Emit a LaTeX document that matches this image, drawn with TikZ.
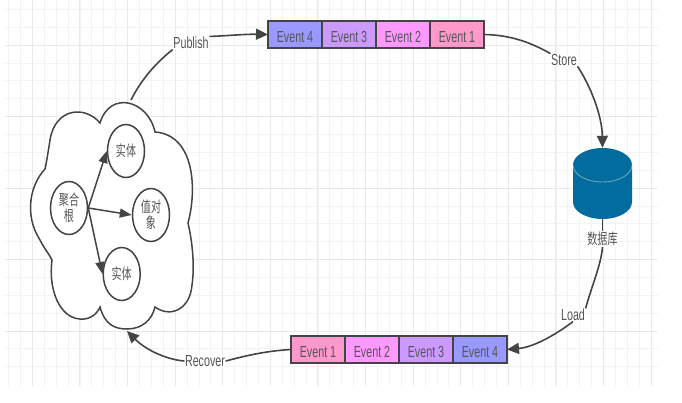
\documentclass[tikz,border=0pt]{standalone}
\usepackage{fontspec}
\setmainfont{Liberation Sans}
\newfontfamily\cjk{Noto Sans CJK SC}
\usetikzlibrary{arrows.meta,shapes.geometric}
\definecolor{ink}{HTML}{444444}
\definecolor{txt}{HTML}{555555}
\definecolor{gridmajor}{HTML}{E9E9E9}
\definecolor{gridminor}{HTML}{F3F3F3}
\definecolor{evfour}{HTML}{9999FF}
\definecolor{evthree}{HTML}{CC99FF}
\definecolor{evtwo}{HTML}{FF99FF}
\definecolor{evone}{HTML}{FF99CC}
\definecolor{dbblue}{HTML}{036C9E}
\newcommand{\sq}[1]{\scalebox{.67}[1]{#1}}
\newcommand{\ev}[1]{\raisebox{-2pt}[\height][0pt]{\sq{#1}}}
\newcommand{\cj}[1]{\scalebox{.67}[1]{\cjk\fontsize{15}{19}\selectfont #1}}
\tikzset{
  evcell/.style={draw=ink,line width=1.5pt,outer sep=0pt,minimum width=54pt,minimum height=27pt,inner sep=0pt,text=txt,font=\fontsize{16}{18}\selectfont},
  bubble/.style={ellipse,draw=ink,line width=1.5pt,fill=white,minimum width=37pt,minimum height=53pt,inner sep=0pt,text=txt,align=center},
  flowlabel/.style={fill=white,inner sep=0.5pt,text=txt,font=\fontsize{16}{18}\selectfont},
  flow/.style={draw=ink,line width=1.6pt},
  tipped/.style={flow,-{Triangle[length=12pt,width=11pt]}},
  inner/.style={draw=ink,line width=1.5pt,-{Triangle[length=12pt,width=9pt]}},
}
\begin{document}
\begin{tikzpicture}[x=1pt,y=-1pt]
\useasboundingbox (0,0) rectangle (682,403);
% grid
\foreach \i in {0,...,54} {\draw[gridminor,line width=.7pt] ({8.5+\i*11.9},0) -- ({8.5+\i*11.9},386);}
\foreach \i in {0,...,20} {\draw[gridminor,line width=.7pt] (5,{9.3+\i*17.87}) -- (658,{9.3+\i*17.87});}
\foreach \i in {0,...,13} {\draw[gridmajor,line width=.9pt] ({32.3+\i*47.6},0) -- ({32.3+\i*47.6},386);}
\foreach \i in {0,...,4} {\draw[gridmajor,line width=.9pt] (5,{45+\i*71.5}) -- (658,{45+\i*71.5});}
% cloud
\draw[draw=ink,line width=1.5pt,fill=white]
  (100,123) .. controls (85,105) and (55,108) .. (50,140)
  .. controls (48,153) and (46,165) .. (45,169)
  .. controls (30,185) and (24,215) .. (40,240)
  .. controls (45,250) and (50,255) .. (52,260)
  .. controls (48,290) and (60,318) .. (80,319)
  .. controls (90,320) and (97,314) .. (100,307)
  .. controls (105,325) and (115,329) .. (127,329)
  .. controls (142,329) and (152,320) .. (155,307)
  .. controls (170,318) and (190,310) .. (192,285)
  .. controls (195,265) and (192,240) .. (188,223)
  .. controls (197,190) and (195,135) .. (155,132)
  .. controls (148,100) and (110,90) .. (100,123) -- cycle;
\coordinate (cloudtop) at (131,100);
\coordinate (cloudbot) at (127,331);
% bubbles
\node[bubble] (root) at (69,208) {\cj{聚合}\\[1pt]\cj{根}};
\node[bubble] (ent1) at (126,151) {\cj{实体}};
\node[bubble] (val) at (151,215) {\cj{值对}\\[1pt]\cj{象}};
\node[bubble] (ent2) at (121.7,274) {\cj{实体}};
\draw[inner] (root.east) -- (ent1.west);
\draw[inner] (root.east) -- (val.west);
\draw[inner] (root.east) -- (ent2.west);
% top queue
\node[evcell,fill=evfour] (t4) at (295,34.5) {\ev{Event 4}};
\node[evcell,fill=evthree] (t3) at (349,34.5) {\ev{Event 3}};
\node[evcell,fill=evtwo] (t2) at (403,34.5) {\ev{Event 2}};
\node[evcell,fill=evone] (t1) at (457,34.5) {\ev{Event 1}};
% bottom queue
\node[evcell,fill=evone] (b1) at (318,349.5) {\ev{Event 1}};
\node[evcell,fill=evtwo] (b2) at (372,349.5) {\ev{Event 2}};
\node[evcell,fill=evthree] (b3) at (426,349.5) {\ev{Event 3}};
\node[evcell,fill=evfour] (b4) at (480,349.5) {\ev{Event 4}};
% database
\fill[dbblue] (573,165) arc[x radius=29.5,y radius=17,start angle=180,end angle=360] -- (632,202)
  arc[x radius=29.5,y radius=17,start angle=0,end angle=180] -- cycle;
\draw[white,opacity=.4,line width=.9pt] (573,165) arc[x radius=29.5,y radius=17,start angle=180,end angle=0];
\node[minimum width=59pt,minimum height=71pt,inner sep=0pt] (db) at (602.5,183.5) {};
% labels
\node[flowlabel] (publish) at (191,43) {\sq{Publish}};
\node[flowlabel] (store) at (564,60) {\sq{Store}};
\node[flowlabel] (load) at (573,315) {\sq{Load}};
\node[flowlabel] (recover) at (205,361) {\sq{Recover}};
\node[inner sep=1pt,fill=white,fill opacity=.85,text opacity=1,text=txt] (dblabel) at (602.5,239) {\scalebox{.67}[1]{\cjk\fontsize{15}{19}\selectfont 数据库}};
% connectors
\draw[flow] (cloudtop) .. controls (142,78) and (158,61) .. (publish.south west);
\draw[tipped] (publish.north east) .. controls (225,36) and (245,34) .. (t4.west);
\draw[flow] (t1.east) .. controls (510,35) and (530,42) .. (store.north west);
\draw[tipped] (store.south east) .. controls (590,85) and (602,115) .. (db.north);
\draw[flow] (db.south) -- (dblabel.north);
\draw[flow] (dblabel.south) .. controls (601,265) and (592,285) .. (load.north east);
\draw[tipped] (load.south) .. controls (558,333) and (535,347) .. (b4.east);
\draw[flow] (b1.west) .. controls (265,351) and (245,356) .. (recover.east);
\draw[tipped] (recover.west) .. controls (170,360) and (148,352) .. (cloudbot);
\end{tikzpicture}
\end{document}
